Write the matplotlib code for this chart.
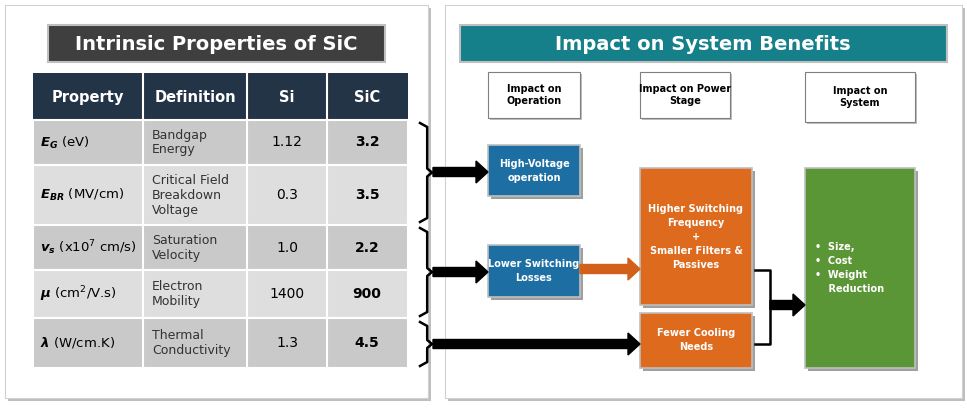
import matplotlib.pyplot as plt
from matplotlib.patches import Rectangle, FancyArrow

plt.rcParams["mathtext.fontset"] = "custom"
plt.rcParams["mathtext.bf"] = "DejaVu Sans:bold:italic"
plt.rcParams["mathtext.rm"] = "DejaVu Sans"

# table data
col_headers = ["Property", "Definition", "Si", "SiC"]
prop_names = [r"$\mathbf{E_G}$ (eV)", r"$\mathbf{E_{BR}}$ (MV/cm)",
              r"$\mathbf{v_s}$ (x10$^7$ cm/s)", r"$\mathbf{\mu}$ (cm$^2$/V.s)",
              r"$\mathbf{\lambda}$ (W/cm.K)"]
definitions = ["Bandgap\nEnergy", "Critical Field\nBreakdown\nVoltage", "Saturation\nVelocity",
               "Electron\nMobility", "Thermal\nConductivity"]
si_vals = ["1.12", "0.3", "1.0", "1400", "1.3"]
sic_vals = ["3.2", "3.5", "2.2", "900", "4.5"]

col_x = [33, 143, 247, 327, 408]
row_y = [120, 165, 225, 270, 318, 368]

fig = plt.figure(figsize=(9.67, 4.12), dpi=100)
ax = fig.add_axes([0, 0, 1, 1])
ax.set_xlim(0, 967)
ax.set_ylim(412, 0)
ax.axis("off")

def box(x0, y0, x1, y1, fc, ec="none", lw=0, z=1):
    ax.add_patch(Rectangle((x0, y0), x1 - x0, y1 - y0, facecolor=fc, edgecolor=ec, lw=lw, zorder=z))

# panels with shadow
for x0, x1 in [(5, 428), (445, 962)]:
    box(x0 + 3, 8, x1 + 3, 401, "#bfbfbf", z=0)
    box(x0, 5, x1, 398, "white", ec="#d0d0d0", lw=0.8, z=0.5)

# titles
box(48, 25, 385, 62, "#3f3f3f", ec="#bfbfbf", lw=1.5)
ax.text(216, 44, "Intrinsic Properties of SiC", color="white", fontsize=14, fontweight="bold",
        ha="center", va="center")
box(460, 25, 947, 62, "#16808a", ec="#bfbfbf", lw=1.5)
ax.text(703, 44, "Impact on System Benefits", color="white", fontsize=14, fontweight="bold",
        ha="center", va="center")

# table
box(33, 73, 408, 120, "#243447")
for i, h in enumerate(col_headers):
    ax.text((col_x[i] + col_x[i + 1]) / 2, 97, h, color="white", fontsize=10.5, fontweight="bold",
            ha="center", va="center", zorder=3)
for r in range(5):
    y0, y1 = row_y[r], row_y[r + 1]
    fc = "#c9c9c9" if r % 2 == 0 else "#dedede"
    box(33, y0, 408, y1, fc, ec="white", lw=1.5)
    ym = (y0 + y1) / 2
    ax.text(40, ym, prop_names[r], fontsize=9.5, va="center", zorder=3)
    ax.text(152, ym, definitions[r], fontsize=9, va="center", color="#333333", zorder=3)
    ax.text(287, ym, si_vals[r], fontsize=10, ha="center", va="center", zorder=3)
    ax.text(367, ym, sic_vals[r], fontsize=10, fontweight="bold", ha="center", va="center", zorder=3)
for x in col_x[1:-1]:
    ax.plot([x, x], [73, 368], color="white", lw=1.5, zorder=2)

def brace(x, y0, y1, w=12):
    ym = (y0 + y1) / 2
    ax.plot([x, x + w * 0.6, x + w * 0.6, x + w, x + w * 0.6, x + w * 0.6, x],
            [y0, y0 + 4, ym - 4, ym, ym + 4, y1 - 4, y1], color="black", lw=1.8, zorder=4)

brace(420, 123, 222)
brace(420, 228, 316)
brace(420, 322, 366)

def arrow(x0, y, x1, color="black"):
    ax.add_patch(FancyArrow(x0, y, x1 - x0, 0, width=9, head_width=22, head_length=12,
                            length_includes_head=True, color=color, zorder=4))

arrow(433, 172, 488)
arrow(433, 272, 488)
arrow(433, 344, 640)
arrow(580, 269, 640, color="#d2601a")

# header boxes
for x0, x1, y1, t in [(488, 580, 118, "Impact on\nOperation"), (640, 730, 118, "Impact on Power\nStage"),
                      (805, 915, 122, "Impact on\nSystem")]:
    box(x0 + 2, 74, x1 + 2, y1 + 2, "#bfbfbf")
    box(x0, 72, x1, y1, "white", ec="#7f7f7f", lw=0.8)
    ax.text((x0 + x1) / 2, (72 + y1) / 2, t, fontsize=7, fontweight="bold", ha="center", va="center")

def colbox(x0, y0, x1, y1, fc, t, ha="center", tx=None):
    box(x0 + 3, y0 + 3, x1 + 3, y1 + 3, "#9f9f9f")
    box(x0, y0, x1, y1, fc, ec="#bfbfbf", lw=1.2)
    ax.text(tx if tx else (x0 + x1) / 2, (y0 + y1) / 2, t, color="white", fontsize=7,
            fontweight="bold", ha=ha, va="center", zorder=3, linespacing=1.5)

colbox(488, 145, 580, 196, "#1d6fa3", "High-Voltage\noperation")
colbox(488, 245, 580, 297, "#1d6fa3", "Lower Switching\nLosses")
colbox(640, 168, 752, 305, "#dd6a1d", "Higher Switching\nFrequency\n+\nSmaller Filters &\nPassives")
colbox(640, 313, 752, 368, "#dd6a1d", "Fewer Cooling\nNeeds")
colbox(805, 168, 915, 368, "#5b9636", u"\u2022  Size,\n\u2022  Cost\n\u2022  Weight\n    Reduction",
       ha="left", tx=815)

# right bracket to system box
ax.plot([755, 770, 770, 755], [270, 270, 344, 344], color="black", lw=1.8, zorder=4)
arrow(770, 305, 805)

fig.savefig("out.png", dpi=100)
